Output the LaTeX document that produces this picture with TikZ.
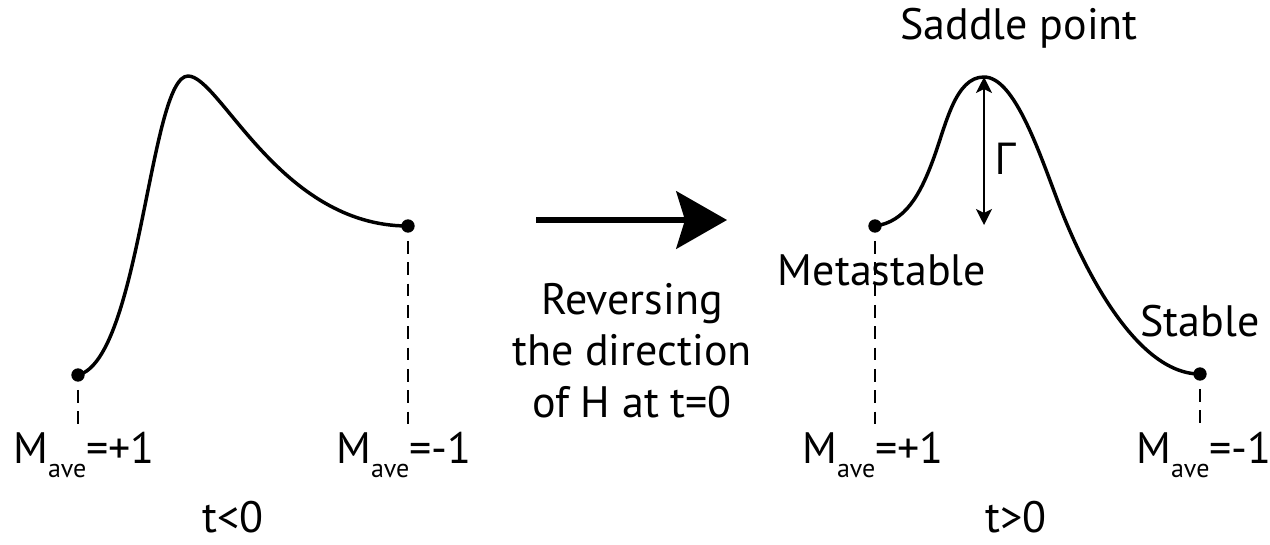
\documentclass[tikz,border=0pt]{standalone}
\usepackage{fontspec}
\setmainfont{PT Sans}
\newfontfamily\greekfont{Open Sans}
\usetikzlibrary{arrows.meta}
\newcommand{\Mave}{M\raisebox{-10.5pt}{\fontsize{19.5}{20}\selectfont ave}}
\tikzset{
  curve/.style={line width=2.6pt, line join=round, line cap=round},
  dot/.style={circle, fill=black, inner sep=0pt, minimum size=10pt},
  guide/.style={line width=1.1pt, dash pattern=on 9.5pt off 6.5pt},
  lbl/.style={inner sep=0pt, font=\fontsize{33}{38.5}\selectfont},
  bigarrow/.style={line width=4.5pt, -{Stealth[length=38pt, width=43pt, inset=6.5pt]}},
  gammaarrow/.style={line width=1.5pt, {Stealth[length=12pt, width=12pt, inset=3pt]}-{Stealth[length=12pt, width=12pt, inset=3pt]}}
}
\begin{document}
\begin{tikzpicture}[x=0.75pt, y=-0.75pt]
\useasboundingbox (0,0) rectangle (1270,544);

% ---------- left panel (t<0)
\node[dot] (lA) at (78,375) {};
\node[dot] (lB) at (408,226) {};
\coordinate (lP) at (188,76);
\draw[curve] (lA.center) .. controls (140,360) and (150,76) .. (lP)
  .. controls (220,76) and (280,226) .. (lB.center);
\coordinate (lAe) at (78,425);
\coordinate (lBe) at (408,425);
\draw[guide] (lA.south) ++(0,8) -- (lAe);
\draw[guide] (lB.south) ++(0,8) -- (lBe);
\node[lbl, anchor=base west] (mL1) at (13,463) {\Mave=+1};
\node[lbl, anchor=base west] (mL2) at (336,463) {\Mave=-1};
\node[lbl, anchor=base] (tl) at (233,532) {t<0};

% ---------- middle arrow and text
\coordinate (arS) at (536,220);
\coordinate (arE) at (727,220);
\draw[bigarrow] (arS) -- (arE);
\node[lbl, align=center, anchor=base] (rev) at (632,417)
  {Reversing\\the direction\\of H at t=0};

% ---------- right panel (t>0)
\node[dot] (rA) at (875,226) {};
\node[dot] (rB) at (1200,374) {};
\coordinate (top) at (984,77);
\draw[curve] (rA.center) .. controls (905,222) and (920,195) .. (933,160)
  .. controls (946,125) and (955,77) .. (top)
  .. controls (1015,77) and (1040,155) .. (1060,207)
  .. controls (1082,264) and (1135,374) .. (rB.center);
\coordinate (rAe) at (875,425);
\coordinate (rBe) at (1200,425);
\draw[guide] (rA.south) ++(0,8) -- (rAe);
\draw[guide] (rB.south) ++(0,8) -- (rBe);
\coordinate (bot) at (984,225);
\draw[gammaarrow] (top) -- (bot);
\node[lbl] (gam) at (1006,159) {\greekfont Γ};
\node[lbl] (sad) at (1019,28) {Saddle point};
\node[lbl] (meta) at (882,270) {Metastable};
\node[lbl] (stab) at (1200,321) {Stable};
\node[lbl, anchor=base west] (mR1) at (802,463) {\Mave=+1};
\node[lbl, anchor=base west] (mR2) at (1136,463) {\Mave=-1};
\node[lbl, anchor=base] (tr) at (1016,532) {t>0};
\end{tikzpicture}
\end{document}
